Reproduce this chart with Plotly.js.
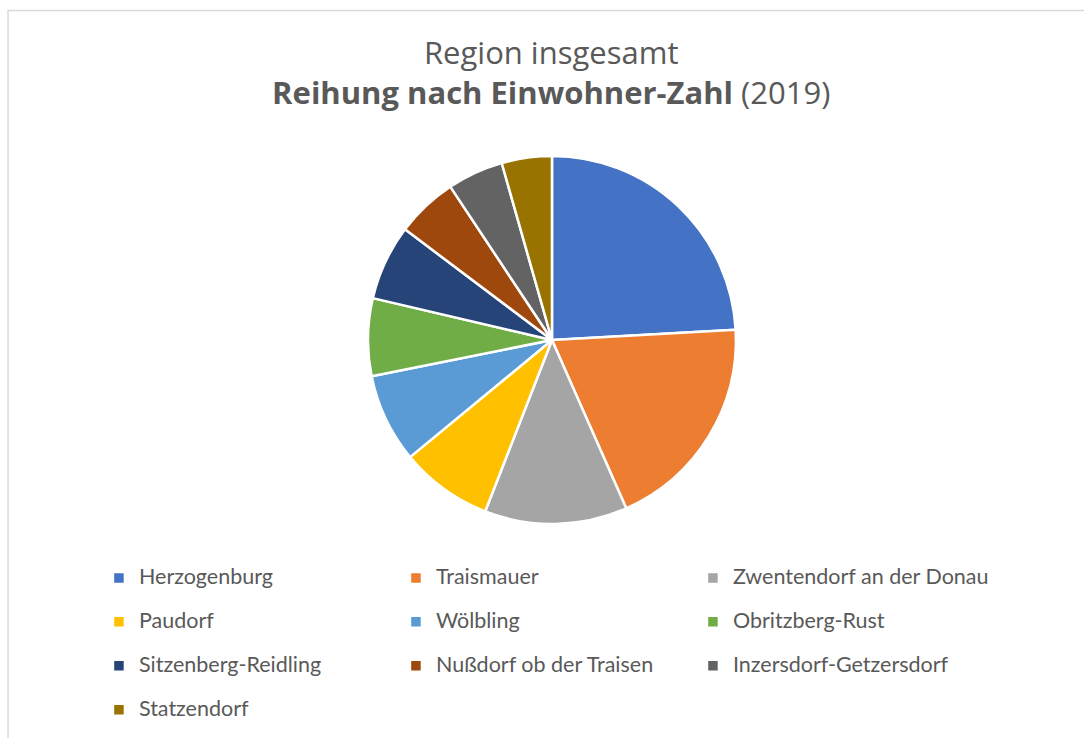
<!DOCTYPE html>
<html>
<head>
<meta charset="utf-8">
<script src="https://cdn.plot.ly/plotly-3.0.1.min.js"></script>
<style>
  html, body { margin: 0; padding: 0; background: #ffffff; }
  #chart { width: 1084px; height: 738px; }
</style>
</head>
<body>
<div id="chart"></div>
<script>
// Data (Einwohner 2019)
const gemeinden = [
  "Herzogenburg",
  "Traismauer",
  "Zwentendorf an der Donau",
  "Paudorf",
  "Wölbling",
  "Obritzberg-Rust",
  "Sitzenberg-Reidling",
  "Nußdorf ob der Traisen",
  "Inzersdorf-Getzersdorf",
  "Statzendorf"
];
const einwohner = [7940, 6350, 4125, 2670, 2575, 2245, 2180, 1780, 1620, 1450];
const farben = ["#4472C4", "#ED7D31", "#A5A5A5", "#FFC000", "#5B9BD5",
                "#70AD47", "#264478", "#9E480E", "#636363", "#997300"];
const titelZeile1 = "Region insgesamt";
const titelZeile2Fett = "Reihung nach Einwohner-Zahl";
const titelZeile2 = " (2019)";

const FONT = "Lato, 'Open Sans', sans-serif";
const TITLEFONT = "'Open Sans', Lato, sans-serif";
const TEXT = "#595959";

const trace = {
  type: "pie",
  labels: gemeinden.map(n => '<span style="font-size:21.5px;baseline-shift:6px">' + n + '</span>'),
  values: einwohner,
  sort: false,
  direction: "clockwise",
  rotation: 0,
  textinfo: "none",
  hoverinfo: "label+value+percent",
  marker: { colors: farben, line: { color: "#ffffff", width: 2.5 } },
  domain: { x: [0.3195, 0.7012], y: [0.28997, 0.78862] },
  showlegend: true
};

const layout = {
  width: 1084,
  height: 738,
  margin: { l: 60, r: 60, t: 0, b: 0, pad: 0 },
  paper_bgcolor: "#ffffff",
  plot_bgcolor: "#ffffff",
  font: { family: FONT, color: TEXT },
  title: {
    text: titelZeile1 + "<br><b>" + titelZeile2Fett + "</b>" + titelZeile2,
    font: { family: TITLEFONT, size: 31, color: TEXT },
    x: 0.5085, xref: "container", xanchor: "center",
    y: 0.9134, yref: "container", yanchor: "top"
  },
  legend: {
    orientation: "h",
    x: 0.0404, xanchor: "left",
    y: 0.2535, yanchor: "top",
    entrywidth: 252, entrywidthmode: "pixels",
    font: { family: FONT, size: 31.5, color: TEXT },
    traceorder: "normal",
    bgcolor: "rgba(0,0,0,0)"
  },
  shapes: [{
    type: "rect", xref: "paper", yref: "paper",
    x0: -0.0539, x1: 1.2, y0: -0.2, y1: 0.9858,
    line: { color: "#d9d9d9", width: 1.5 },
    fillcolor: "rgba(0,0,0,0)",
    layer: "below"
  }]
};

Plotly.newPlot("chart", [trace], layout, { staticPlot: true, displayModeBar: false });
</script>
</body>
</html>
